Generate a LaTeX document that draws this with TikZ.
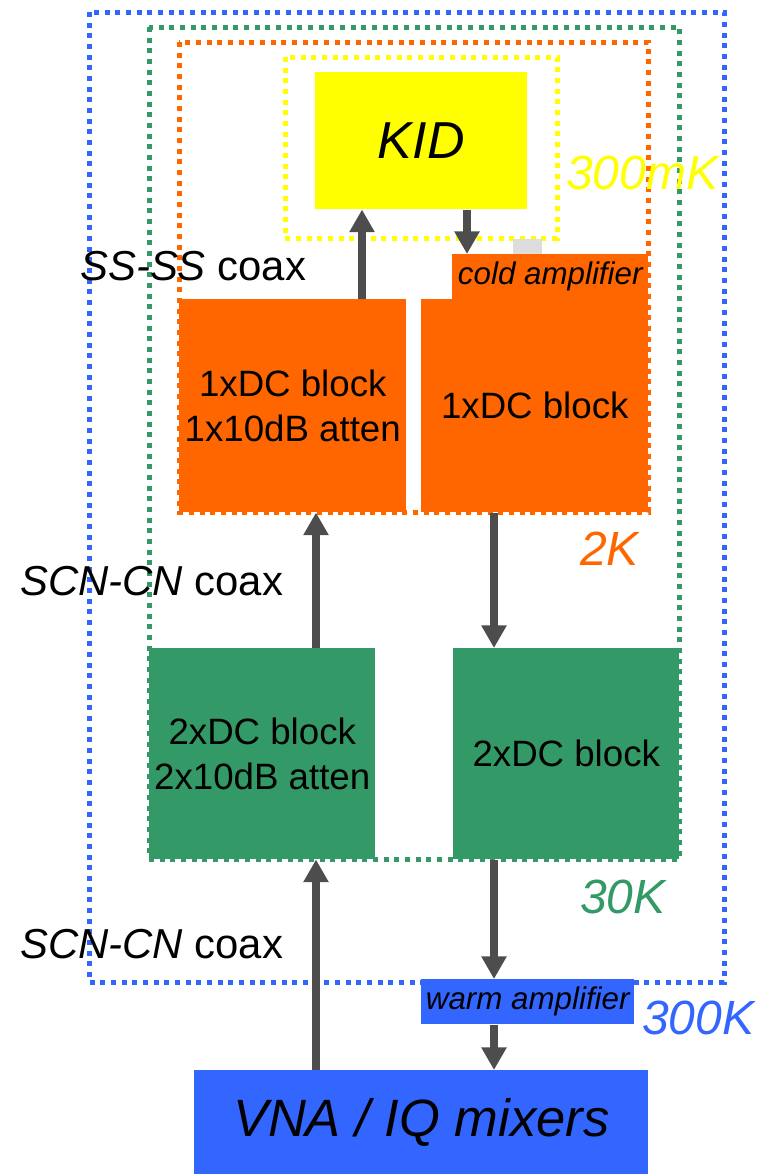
\documentclass[tikz,border=0pt]{standalone}
\usepackage{fontspec}
\setmainfont{Liberation Sans}
\usetikzlibrary{arrows.meta}
\definecolor{kidyellow}{RGB}{255,255,0}
\definecolor{stageorange}{RGB}{255,102,0}
\definecolor{stagegreen}{RGB}{51,153,102}
\definecolor{stageblue}{RGB}{51,102,255}
\definecolor{arrowgray}{RGB}{77,77,77}
\definecolor{ampgray}{RGB}{221,221,221}

\begin{document}
\begin{tikzpicture}[x=0.75pt, y=-0.75pt,
        stage/.style={line width=3.75pt, dash pattern=on 3.75pt off 4.25pt},
        block/.style={rectangle, anchor=north west, inner sep=0pt, align=center, font=\fontsize{27.5}{34}\selectfont},
        amp/.style={rectangle, anchor=north west, inner sep=0pt, minimum height=33.75pt, font=\fontsize{23.5}{28}\selectfont\itshape},
        templabel/.style={anchor=west, inner sep=0pt, font=\fontsize{36}{40}\selectfont\itshape},
        coaxlabel/.style={anchor=west, inner sep=0pt, font=\fontsize{31.4}{36}\selectfont},
        sig/.style={-{Triangle[length=17pt, width=18pt]}, line width=6pt, draw=arrowgray}
    ]
        \useasboundingbox (0,0) rectangle (763,1174);

        % temperature stages
        \draw[stage, stageblue] (89,12) rectangle (724,982);
        \draw[stage, stagegreen] (149,27) rectangle (679,859);
        \draw[stage, stageorange] (179,42) rectangle (648,512);
        \draw[stage, kidyellow] (285,57) rectangle (557,238);

        \node[block, fill=kidyellow, minimum width=159pt, minimum height=102.75pt, font=\fontsize{39}{44}\selectfont\itshape] (kid) at (315,72) {KID};
        \node[rectangle, anchor=north west, inner sep=0pt, fill=ampgray, minimum width=21.75pt, minimum height=11.25pt] (bias) at (513,239) {};
        \node[amp, fill=stageorange, minimum width=147pt] (coldamp) at (452,254) {cold amplifier};
        \node[block, fill=stageorange, minimum width=170.25pt, minimum height=159.75pt] (oleft) at (179,299) {1xDC block\\1x10dB atten};
        \node[block, fill=stageorange, minimum width=170.25pt, minimum height=159.75pt] (oright) at (421,299) {1xDC block};
        \node[block, fill=stagegreen, minimum width=169.5pt, minimum height=158.25pt] (gleft) at (149,648) {2xDC block\\2x10dB atten};
        \node[block, fill=stagegreen, minimum width=169.5pt, minimum height=158.25pt] (gright) at (453,648) {2xDC block};
        \node[amp, fill=stageblue, minimum width=159.75pt] (warmamp) at (421,979) {warm amplifier};
        \node[block, fill=stageblue, minimum width=340.5pt, minimum height=78pt, font=\fontsize{39.4}{44}\selectfont\itshape] (vna) at (194,1070) {VNA / IQ mixers};

        \node[templabel, text=kidyellow] (t300mk) at (566,173) {300mK};
        \node[templabel, text=stageorange] (t2k) at (580,549) {2K};
        \node[templabel, text=stagegreen] (t30k) at (580,897) {30K};
        \node[templabel, text=stageblue] (t300k) at (642,1018) {300K};
        \node[coaxlabel] (coax1) at (80,266) {\textit{SS-SS} coax};
        \node[coaxlabel] (coax2) at (20,581) {\textit{SCN-CN} coax};
        \node[coaxlabel] (coax3) at (20,944) {\textit{SCN-CN} coax};

        % signal columns
        \coordinate (incol) at (362,0);
        \coordinate (outcol) at (467,0);
        \coordinate (lcol) at (316,0);
        \coordinate (rcol) at (494,0);

        \draw[sig] (oleft.north -| incol) -- (kid.south -| incol);
        \draw[sig] (kid.south -| outcol) -- (coldamp.north -| outcol);
        \draw[sig] (gleft.north -| lcol) -- (oleft.south -| lcol);
        \draw[sig] (oright.south -| rcol) -- (gright.north -| rcol);
        \draw[sig] (vna.north -| lcol) -- (gleft.south -| lcol);
        \draw[sig] (gright.south -| rcol) -- (warmamp.north -| rcol);
        \draw[sig] (warmamp.south -| rcol) -- (vna.north -| rcol);
    \end{tikzpicture}
\end{document}
